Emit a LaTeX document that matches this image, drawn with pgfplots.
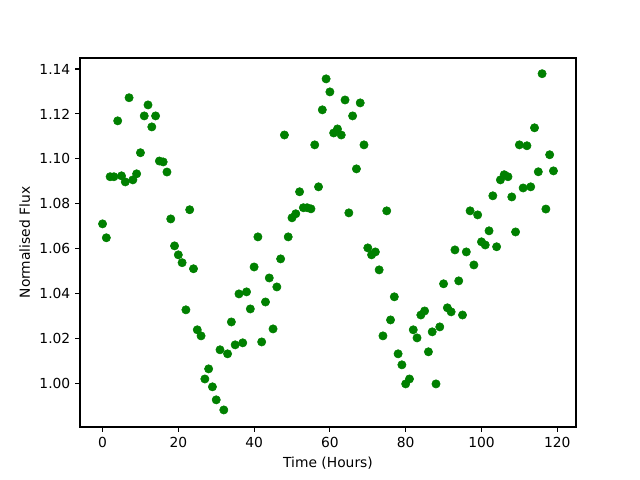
\documentclass[border=0pt]{standalone}
\usepackage{fontspec}
\setmainfont{DejaVu Sans}
\usepackage{pgfplots}
\pgfplotsset{compat=1.18}
\definecolor{mplgreen}{HTML}{008000}
\begin{document}
\begin{tikzpicture}
\useasboundingbox (0,0) rectangle (6.4in,4.8in);
\begin{axis}[
  at={(0.8in,0.53in)}, anchor=south west,
  scale only axis, width=4.96in, height=3.69in,
  xmin=-5.95, xmax=124.95, ymin=0.9805, ymax=1.1449,
  xtick={0,20,...,120},
  ytick={1.00,1.02,...,1.141},
  yticklabel style={/pgf/number format/.cd, fixed, fixed zerofill, precision=2},
  /pgf/number format/assume math mode=true,
  tick align=outside, tick pos=left,
  major tick length=3.5pt,
  axis line style={line width=0.8pt},
  every tick/.style={black, line width=0.8pt},
  tick label style={font=\fontsize{10}{12}\selectfont},
  label style={font=\fontsize{10}{12}\selectfont},
  xlabel={Time (Hours)}, ylabel={Normalised Flux},
]
\addplot[only marks, mark=*, mark size=3pt, color=mplgreen, mark options={fill=mplgreen, draw=mplgreen}] table[row sep=\\] {
x y\\
0 1.0710\\ 1 1.0648\\ 2 1.0920\\ 3 1.0920\\ 4 1.1169\\ 5 1.0924\\ 6 1.0897\\ 7 1.1272\\ 8 1.0906\\ 9 1.0933\\
10 1.1027\\ 11 1.1191\\ 12 1.1240\\ 13 1.1142\\ 14 1.1191\\ 15 1.0990\\ 16 1.0986\\ 17 1.0941\\ 18 1.0732\\ 19 1.0612\\
20 1.0572\\ 21 1.0537\\ 22 1.0327\\ 23 1.0773\\ 24 1.0510\\ 25 1.0238\\ 26 1.0211\\ 27 1.0019\\ 28 1.0064\\ 29 0.9984\\
30 0.9926\\ 31 1.0149\\ 32 0.9881\\ 33 1.0131\\ 34 1.0273\\ 35 1.0171\\ 36 1.0398\\ 37 1.0180\\ 38 1.0407\\ 39 1.0331\\
40 1.0518\\ 41 1.0652\\ 42 1.0184\\ 43 1.0362\\ 44 1.0469\\ 45 1.0242\\ 46 1.0429\\ 47 1.0554\\ 48 1.1106\\ 49 1.0652\\
50 1.0737\\ 51 1.0755\\ 52 1.0853\\ 53 1.0782\\ 54 1.0782\\ 55 1.0777\\ 56 1.1062\\ 57 1.0875\\ 58 1.1218\\ 59 1.1356\\
60 1.1298\\ 61 1.1115\\ 62 1.1133\\ 63 1.1106\\ 64 1.1262\\ 65 1.0759\\ 66 1.1191\\ 67 1.0955\\ 68 1.1249\\ 69 1.1062\\
70 1.0603\\ 71 1.0572\\ 72 1.0585\\ 73 1.0505\\ 74 1.0211\\ 75 1.0768\\ 76 1.0282\\ 77 1.0385\\ 78 1.0131\\ 79 1.0082\\
80 0.9997\\ 81 1.0019\\ 82 1.0238\\ 83 1.0202\\ 84 1.0304\\ 85 1.0322\\ 86 1.0140\\ 87 1.0229\\ 88 0.9997\\ 89 1.0251\\
90 1.0443\\ 91 1.0336\\ 92 1.0318\\ 93 1.0594\\ 94 1.0456\\ 95 1.0304\\ 96 1.0585\\ 97 1.0768\\ 98 1.0527\\ 99 1.0750\\
100 1.0630\\ 101 1.0616\\ 102 1.0679\\ 103 1.0835\\ 104 1.0608\\ 105 1.0906\\ 106 1.0929\\ 107 1.0920\\ 108 1.0830\\ 109 1.0674\\
110 1.1062\\ 111 1.0870\\ 112 1.1058\\ 113 1.0875\\ 114 1.1138\\ 115 1.0942\\ 116 1.1379\\ 117 1.0776\\ 118 1.1018\\ 119 1.0946\\
};
\end{axis}
\end{tikzpicture}
\end{document}
